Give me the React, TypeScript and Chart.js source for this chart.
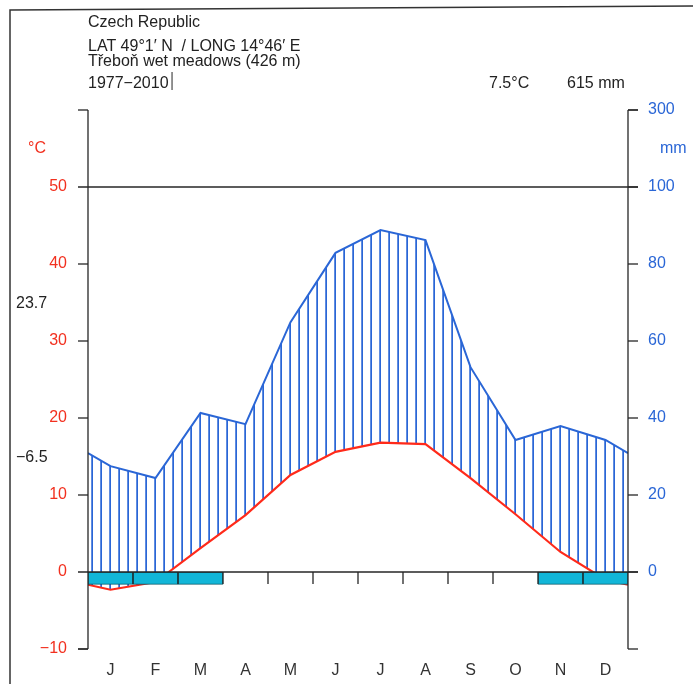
import React, { useEffect, useRef } from "react";
import { Chart, registerables } from "chart.js";

Chart.register(...registerables);

// ---- data ----
const months = ["J", "F", "M", "A", "M", "J", "J", "A", "S", "O", "N", "D"];
const temperature = [-2.3, -1.3, 3.1, 7.4, 12.6, 15.6, 16.8, 16.6, 12.2, 7.5, 2.6, -1.0]; // °C
const precipitation = [27.5, 24.4, 41.3, 38.4, 64.9, 82.9, 88.8, 86.2, 53.2, 34.3, 37.9, 34.3]; // mm
const frostMonthIndex = [0, 1, 2, 10, 11];
const frostBarDepth = -1.6;
const tempTicks = [-10, 0, 10, 20, 30, 40, 50];
const precipTicks = [0, 20, 40, 60, 80, 100, 300];
const headerLines = [
  "Czech Republic",
  "LAT 49°1′ N  / LONG 14°46′ E",
  "Třeboň wet meadows (426 m)",
  "1977−2010",
];
const meanTempText = "7.5°C";
const annualPrecipText = "615 mm";
const sideLabels = ["23.7", "−6.5"];
const tempUnit = "°C";
const precipUnit = "mm";

// mm -> °C-equivalent (Walter–Lieth: 2 mm = 1 °C, compressed 1:10 above 100 mm)
const mmToC = (mm: number) => (mm <= 100 ? mm / 2 : 50 + (mm - 100) / 20);

const withWrap = (vals: number[]) => {
  const edge = (vals[0] + vals[vals.length - 1]) / 2;
  return [
    { x: 0, y: edge },
    ...vals.map((v, i) => ({ x: i + 0.5, y: v })),
    { x: vals.length, y: edge },
  ];
};

const RED = "#f2301f";
const BLUE = "#2a66d6";
const AXIS = "#262626";
const FONT = "16px 'Liberation Sans', Arial, sans-serif";

const walterPlugin = {
  id: "walterAxes",
  afterDatasetsDraw(chart: any) {
    const { ctx, chartArea: a } = chart;
    const xs = chart.scales.x;
    const ys = chart.scales.y;
    const L = a.left, R = a.right, T = a.top, B = a.bottom;
    const tick = 10;
    ctx.save();
    ctx.strokeStyle = AXIS;
    ctx.lineWidth = 1.3;
    const line = (x1: number, y1: number, x2: number, y2: number) => {
      ctx.beginPath();
      ctx.moveTo(x1, y1);
      ctx.lineTo(x2, y2);
      ctx.stroke();
    };
    line(L, T, L, B);
    line(R, T, R, B);
    line(L - tick, T, L, T);
    line(R, T, R + tick, T);
    line(L - tick, B, L, B);
    line(R, B, R + tick, B);
    for (const t of tempTicks) {
      const py = ys.getPixelForValue(t);
      if (t === 0 || t === 50) line(L - tick, py, R + tick, py);
      else line(L - tick, py, L, py);
    }
    for (const m of precipTicks) {
      const py = ys.getPixelForValue(mmToC(m));
      line(R, py, R + tick, py);
    }
    const y0 = ys.getPixelForValue(0);
    for (let i = 1; i < months.length; i++) {
      const px = xs.getPixelForValue(i);
      line(px, y0, px, y0 + 12);
    }

    ctx.font = FONT;
    ctx.textBaseline = "middle";
    // left labels
    ctx.fillStyle = RED;
    ctx.textAlign = "right";
    for (const t of tempTicks) {
      ctx.fillText(t < 0 ? "−" + Math.abs(t) : String(t), L - 21, ys.getPixelForValue(t));
    }
    ctx.textAlign = "left";
    ctx.fillText(tempUnit, 28, ys.getPixelForValue(55));
    // right labels
    ctx.fillStyle = BLUE;
    for (const m of precipTicks) {
      ctx.fillText(String(m), R + 20, ys.getPixelForValue(mmToC(m)));
    }
    ctx.fillText(precipUnit, R + 32, ys.getPixelForValue(55));
    // month labels
    ctx.fillStyle = "#333";
    ctx.textAlign = "center";
    months.forEach((m, i) => ctx.fillText(m, xs.getPixelForValue(i + 0.5), B + 22));
    // side labels
    ctx.textAlign = "left";
    ctx.fillStyle = "#222";
    ctx.fillText(sideLabels[0], 16, 304);
    ctx.fillText(sideLabels[1], 16, 458);
    // header
    ctx.textBaseline = "alphabetic";
    const baselines = [27, 51, 66, 88];
    headerLines.forEach((s, i) => ctx.fillText(s, L, baselines[i]));
    const w = ctx.measureText(headerLines[3]).width;
    ctx.lineWidth = 1;
    line(L + w + 3.5, 72, L + w + 3.5, 90);
    ctx.fillText(meanTempText, 489, 88);
    ctx.fillText(annualPrecipText, 567, 88);
    // outer frame
    ctx.strokeStyle = "#333";
    ctx.lineWidth = 1.5;
    ctx.beginPath();
    ctx.moveTo(10, 684);
    ctx.lineTo(10, 10);
    ctx.lineTo(693, 6);
    ctx.stroke();
    ctx.restore();
  },
};

export default function App() {
  const ref = useRef<HTMLCanvasElement | null>(null);
  useEffect(() => {
    if (!ref.current) return;
    const pc = document.createElement("canvas");
    pc.width = 9;
    pc.height = 4;
    const pctx = pc.getContext("2d")!;
    pctx.fillStyle = "rgba(42,102,214,0.75)";
    pctx.fillRect(1, 0, 1, 4);
    pctx.fillStyle = "rgba(42,102,214,1)";
    pctx.fillRect(2, 0, 1, 4);
    const pattern = ref.current.getContext("2d")!.createPattern(pc, "repeat");

    const chart = new Chart(ref.current, {
      type: "line",
      data: {
        datasets: [
          {
            type: "bar",
            label: "frost",
            data: frostMonthIndex.map((i) => ({ x: i + 0.5, y: [frostBarDepth, 0] })),
            backgroundColor: "#12b6d8",
            borderColor: "#0b5f6e",
            borderWidth: 1,
            borderSkipped: false,
            barPercentage: 1,
            categoryPercentage: 1,
            order: 0,
          } as any,
          {
            label: "precip",
            data: withWrap(precipitation.map(mmToC)),
            borderColor: BLUE,
            borderWidth: 2,
            pointRadius: 0,
            tension: 0,
            fill: { target: 2, above: pattern, below: "rgba(0,0,0,0)" },
            order: 2,
          } as any,
          {
            label: "temp",
            data: withWrap(temperature),
            borderColor: "#ff2a1a",
            borderWidth: 2.2,
            pointRadius: 0,
            tension: 0,
            fill: false,
            order: 1,
          },
        ],
      },
      options: {
        animation: false,
        responsive: false,
        devicePixelRatio: 1,
        layout: { padding: { left: 88, top: 110, right: 65, bottom: 35 } },
        scales: {
          x: {
            type: "linear",
            min: 0,
            max: 12,
            offset: false,
            display: false,
            grid: { offset: false },
            ticks: { stepSize: 1 },
          },
          y: { type: "linear", min: -10, max: 60, display: false },
        },
        plugins: { legend: { display: false }, tooltip: { enabled: false } },
      },
      plugins: [walterPlugin],
    });
    return () => chart.destroy();
  }, []);
  return (
    <div style={{ position: "absolute", left: 0, top: 0, width: 693, height: 684, background: "#fff" }}>
      <canvas ref={ref} width={693} height={684} style={{ display: "block" }} />
    </div>
  );
}
